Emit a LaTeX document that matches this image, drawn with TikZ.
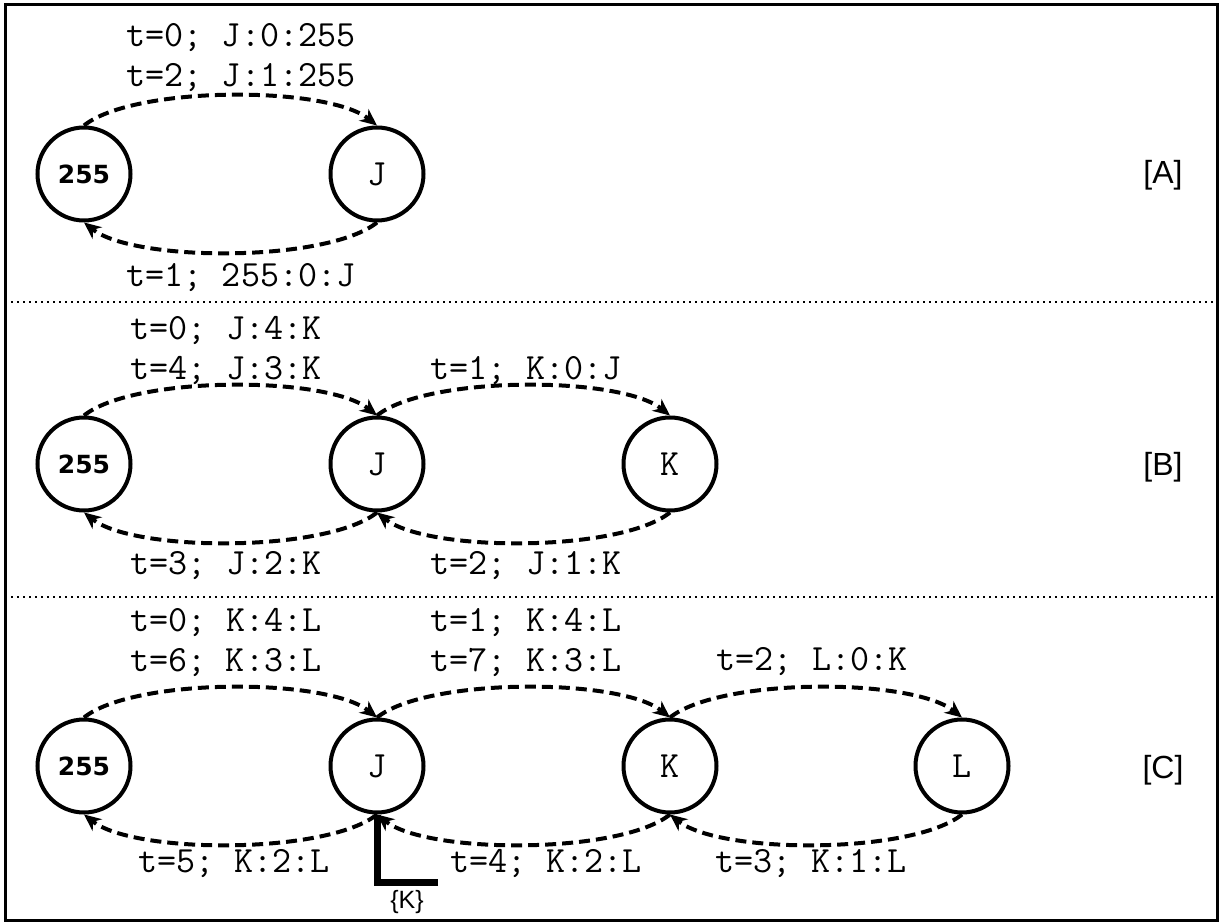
\documentclass[tikz,border=0pt]{standalone}
\usepackage{fontspec}
\setmainfont{Liberation Sans}
\newfontfamily\numfnt{DejaVu Sans}
\usetikzlibrary{arrows.meta}
\begin{document}
\begin{tikzpicture}[x=0.5pt,y=-0.5pt,
  state/.style={circle, draw, line width=2pt, minimum size=46.5pt, inner sep=0pt,
    font=\ttfamily\fontsize{18.5}{20}\selectfont},
  zero/.style={state, font=\numfnt\bfseries\fontsize{12.5}{14}\selectfont},
  lbl/.style={font=\ttfamily\fontsize{18.5}{20}\selectfont, anchor=base, inner sep=0pt},
  panel/.style={font=\fontsize{16}{18}\selectfont, inner sep=0pt},
  msg/.style={line width=2pt, dash pattern=on 5.5pt off 3pt, -{Stealth[length=8.5pt,width=7.5pt]}},
  sep/.style={line width=1pt, dash pattern=on 1pt off 2pt},
  thick path/.style={line width=3.5pt, line join=miter}
]
\useasboundingbox (0,0) rectangle (1221,924);
\draw[line width=1.5pt] (5,5) rectangle (1217,920);
\coordinate (s1l) at (5,302); \coordinate (s1r) at (1217,302);
\coordinate (s2l) at (5,597); \coordinate (s2r) at (1217,597);
\draw[sep] (s1l) -- (s1r);
\draw[sep] (s2l) -- (s2r);

% ---------- Panel A
\node[zero] (A0) at (84,174) {255};
\node[state] (AJ) at (377,174) {J};
\node[panel] (pA) at (1163,175) {[A]};
\node[lbl] (a1) at (241,47) {t=0; J:0:255};
\node[lbl] (a2) at (241,87) {t=2; J:1:255};
\node[lbl] (a3) at (241,287) {t=1; 255:0:J};
\draw[msg] (A0.north) .. controls +(50,-40) and +(-50,-40) .. (AJ.north);
\draw[msg] (AJ.south) .. controls +(-50,40) and +(50,40) .. (A0.south);

% ---------- Panel B
\node[zero] (B0) at (84,464) {255};
\node[state] (BJ) at (377,464) {J};
\node[state] (BK) at (670,464) {K};
\node[panel] (pB) at (1163,467) {[B]};
\node[lbl] (b1) at (226,340) {t=0; J:4:K};
\node[lbl] (b2) at (226,380) {t=4; J:3:K};
\node[lbl] (b3) at (226,575) {t=3; J:2:K};
\node[lbl] (b4) at (526,380) {t=1; K:0:J};
\node[lbl] (b5) at (526,575) {t=2; J:1:K};
\draw[msg] (B0.north) .. controls +(50,-40) and +(-50,-40) .. (BJ.north);
\draw[msg] (BJ.north) .. controls +(50,-40) and +(-50,-40) .. (BK.north);
\draw[msg] (BJ.south) .. controls +(-50,40) and +(50,40) .. (B0.south);
\draw[msg] (BK.south) .. controls +(-50,40) and +(50,40) .. (BJ.south);

% ---------- Panel C
\node[zero] (C0) at (84,766) {255};
\node[state] (CJ) at (377,766) {J};
\node[state] (CK) at (670,766) {K};
\node[state] (CL) at (962,766) {L};
\node[panel] (pC) at (1163,770) {[C]};
\node[lbl] (c1) at (226,632) {t=0; K:4:L};
\node[lbl] (c2) at (226,672) {t=6; K:3:L};
\node[lbl] (c3) at (526,632) {t=1; K:4:L};
\node[lbl] (c4) at (526,672) {t=7; K:3:L};
\node[lbl] (c5) at (812,670) {t=2; L:0:K};
\node[lbl] (c6) at (234,872) {t=5; K:2:L};
\node[lbl] (c7) at (546,872) {t=4; K:2:L};
\node[lbl] (c8) at (811,872) {t=3; K:1:L};
\draw[msg] (C0.north) .. controls +(50,-40) and +(-50,-40) .. (CJ.north);
\draw[msg] (CJ.north) .. controls +(50,-40) and +(-50,-40) .. (CK.north);
\draw[msg] (CK.north) .. controls +(50,-40) and +(-50,-40) .. (CL.north);
\draw[msg] (CJ.south) .. controls +(-50,40) and +(50,40) .. (C0.south);
\draw[msg] (CK.south) .. controls +(-50,40) and +(50,40) .. (CJ.south);
\draw[msg] (CL.south) .. controls +(-50,40) and +(50,40) .. (CK.south);

\coordinate (kcorner) at (377,882);
\coordinate (kend) at (438,882);
\draw[thick path] (kend) -- (kcorner) -- (CJ.south);
\node[font=\fontsize{12.5}{14}\selectfont, inner sep=0pt] (kset) at (407,902) {\{K\}};
\end{tikzpicture}
\end{document}
